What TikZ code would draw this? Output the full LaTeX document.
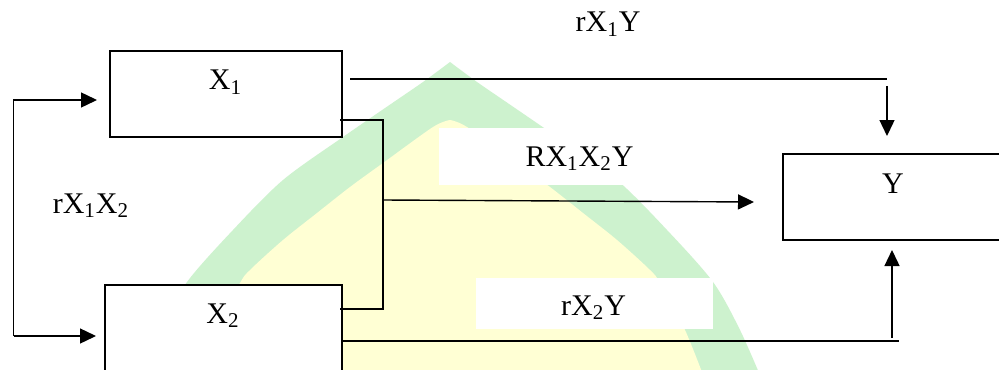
\documentclass[tikz,border=0pt]{standalone}
\usepackage{fontspec}
\setmainfont{Liberation Serif}
\usetikzlibrary{arrows.meta,calc}
\definecolor{wmgreen}{RGB}{205,242,206}
\definecolor{wmyellow}{RGB}{255,255,212}
\begin{document}
\begin{tikzpicture}[x=0.5pt,y=-0.5pt,
  box/.style={draw,line width=0.7pt,fill=white,rectangle,inner sep=0},
  lbl/.style={anchor=base,inner sep=0,font=\fontsize{15}{18}\selectfont},
  labbg/.style={fill=white,draw=none,rectangle,inner sep=0},
  conn/.style={line width=0.7pt},
  arr/.style={conn,-{Triangle[length=8pt,width=7.5pt]}}]
\useasboundingbox (0,0) rectangle (999,369);
\clip (0,0) rectangle (999,369);
\fill[white] (0,0) rectangle (999,369);
% watermark
\fill[wmgreen] plot[smooth,tension=0.5] coordinates {(138,380) (160,330) (187,282) (233,230) (283,180) (343,137) (388,106) (423,82) (450,62)}
  -- plot[smooth,tension=0.5] coordinates {(450,62) (477,82) (512,106) (557,137) (617,180) (667,230) (713,282) (740,330) (762,380)} -- cycle;
\fill[wmyellow] plot[smooth,tension=0.5] coordinates {(195,380) (215,330) (240,283) (250,270) (283,240) (317,213) (350,187) (383,163) (433,127) (450,120)}
  -- plot[smooth,tension=0.5] coordinates {(450,120) (467,127) (517,163) (550,187) (583,213) (617,240) (650,270) (660,283) (685,330) (705,380)} -- cycle;
% label backgrounds
\node[labbg,minimum width=141pt,minimum height=28.5pt] (bgR) at (579.5,156.5) {};
\node[labbg,minimum width=118.5pt,minimum height=25.5pt] (bgX2Y) at (594.5,303.5) {};
% boxes
\node[box,minimum width=116pt,minimum height=43pt] (x1) at (226,94) {};
\node[box,minimum width=118.5pt,minimum height=44pt] (x2) at (223.5,329) {};
\node[box,minimum width=113.5pt,minimum height=43pt] (y) at (896.5,197) {};
% connector points
\coordinate (lt) at (13.5,100);
\coordinate (lb) at (13.5,336);
\coordinate (x1in) at (97,100);
\coordinate (x2in) at (96,336);
\coordinate (topa) at (350,79);
\coordinate (topb) at (887,79);
\coordinate (downs) at (887,86);
\coordinate (downe) at (887,136);
\coordinate (br1) at (340,120);
\coordinate (br2) at (383,120);
\coordinate (br3) at (383,309);
\coordinate (br4) at (340,309);
\coordinate (brm) at (383,200);
\coordinate (mide) at (754,202);
\coordinate (bota) at (342,341);
\coordinate (botb) at (899,341);
\coordinate (ups) at (892,338);
\coordinate (upe) at (892,250);
% connectors
\draw[arr] (lb) -- (lt) -- (x1in);
\draw[arr] (lb) -- (x2in);
\draw[conn] (topa) -- (topb);
\draw[arr] (downs) -- (downe);
\draw[conn] (br1) -- (br2) -- (br3) -- (br4);
\draw[arr] (brm) -- (mide);
\draw[conn] (bota) -- (botb);
\draw[arr] (ups) -- (upe);
% texts
\node[lbl] (tx1) at (225.5,90) {X\textsubscript{1}};
\node[lbl] (tx2) at (223,323) {X\textsubscript{2}};
\node[lbl] (ty) at (893,193) {Y};
\node[lbl] (trx1x2) at (91,213) {rX\textsubscript{1}X\textsubscript{2}};
\node[lbl] (trx1y) at (608,32) {rX\textsubscript{1}Y};
\node[lbl] (trr) at (579.5,166) {RX\textsubscript{1}X\textsubscript{2}Y};
\node[lbl] (trx2y) at (593.5,315) {rX\textsubscript{2}Y};
\end{tikzpicture}
\end{document}
